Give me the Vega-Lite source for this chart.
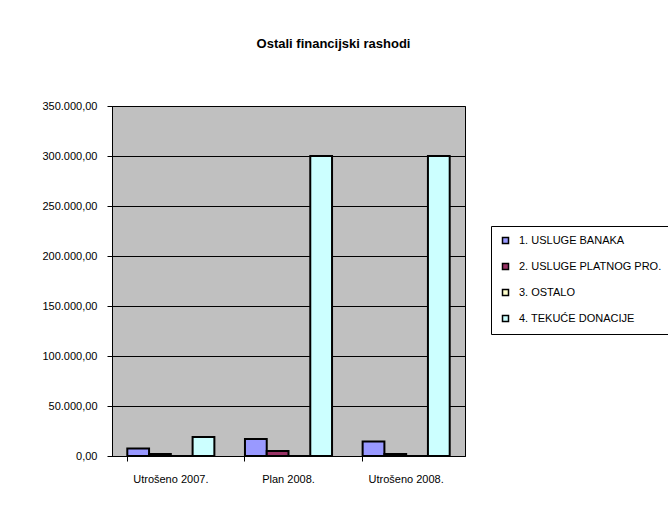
{
  "$schema": "https://vega.github.io/schema/vega-lite/v6.json",
  "autosize": {"type": "none"},
  "width": 353,
  "height": 350,
  "padding": {"left": 112, "top": 106, "right": 203, "bottom": 57},
  "background": "white",
  "config": {
    "font": "Liberation Sans",
    "locale": {"number": {"decimal": ",", "thousands": ".", "grouping": [3], "currency": ["", ""]}},
    "view": {"fill": "#C0C0C0", "stroke": "black", "strokeWidth": 1}
  },
  "title": {
    "text": "Ostali financijski rashodi",
    "fontSize": 13,
    "fontWeight": "bold",
    "font": "Liberation Sans",
    "color": "black",
    "anchor": "middle",
    "dx": 45,
    "offset": 49
  },
  "data": {
    "values": [
      {"kat": "Utrošeno 2007.", "serija": "1. USLUGE BANAKA", "v": 7500},
      {"kat": "Utrošeno 2007.", "serija": "2. USLUGE PLATNOG PRO.", "v": 2000},
      {"kat": "Utrošeno 2007.", "serija": "3. OSTALO", "v": 0},
      {"kat": "Utrošeno 2007.", "serija": "4. TEKUĆE DONACIJE", "v": 19000},
      {"kat": "Plan 2008.", "serija": "1. USLUGE BANAKA", "v": 17000},
      {"kat": "Plan 2008.", "serija": "2. USLUGE PLATNOG PRO.", "v": 5000},
      {"kat": "Plan 2008.", "serija": "3. OSTALO", "v": 0},
      {"kat": "Plan 2008.", "serija": "4. TEKUĆE DONACIJE", "v": 300000},
      {"kat": "Utrošeno 2008.", "serija": "1. USLUGE BANAKA", "v": 14500},
      {"kat": "Utrošeno 2008.", "serija": "2. USLUGE PLATNOG PRO.", "v": 2000},
      {"kat": "Utrošeno 2008.", "serija": "3. OSTALO", "v": 0},
      {"kat": "Utrošeno 2008.", "serija": "4. TEKUĆE DONACIJE", "v": 300000}
    ]
  },
  "mark": {"type": "bar", "stroke": "black", "strokeWidth": 2},
  "encoding": {
    "x": {
      "field": "kat",
      "type": "nominal",
      "sort": ["Utrošeno 2007.", "Plan 2008.", "Utrošeno 2008."],
      "scale": {"paddingInner": 0.26, "paddingOuter": 0.13},
      "axis": {
        "title": null,
        "labelAngle": 0,
        "labelFontSize": 11,
        "labelColor": "black",
        "labelPadding": 12,
        "domainColor": "black",
        "tickColor": "black",
        "tickSize": 5,
        "bandPosition": 0
      }
    },
    "xOffset": {
      "field": "serija",
      "type": "nominal",
      "scale": {"paddingInner": 0, "paddingOuter": 0}
    },
    "y": {
      "field": "v",
      "type": "quantitative",
      "scale": {"domain": [0, 350000], "nice": false},
      "axis": {
        "title": null,
        "values": [0, 50000, 100000, 150000, 200000, 250000, 300000, 350000],
        "format": ",.2f",
        "labelFontSize": 11,
        "labelColor": "black",
        "labelPadding": 10,
        "domainColor": "black",
        "tickColor": "black",
        "tickSize": 5,
        "grid": true,
        "gridColor": "black",
        "gridWidth": 1
      }
    },
    "fill": {
      "field": "serija",
      "type": "nominal",
      "scale": {
        "domain": ["1. USLUGE BANAKA", "2. USLUGE PLATNOG PRO.", "3. OSTALO", "4. TEKUĆE DONACIJE"],
        "range": ["#9999FF", "#993366", "#FFFFCC", "#CCFFFF"]
      },
      "legend": {
        "title": null,
        "orient": "none",
        "legendX": 379,
        "legendY": 120,
        "symbolType": "square",
        "symbolSize": 36,
        "symbolStrokeColor": "black",
        "symbolStrokeWidth": 1.5,
        "labelFontSize": 11,
        "labelOffset": 8,
        "labelColor": "black",
        "rowPadding": 13,
        "padding": 9,
        "strokeColor": "black",
        "fillColor": "white",
        "labelLimit": 200
      }
    }
  }
}
